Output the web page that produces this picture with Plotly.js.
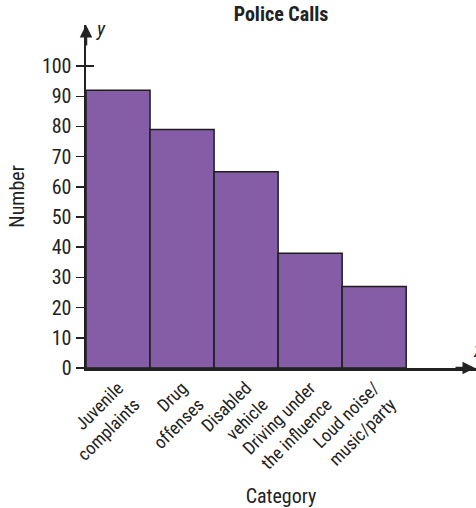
<!DOCTYPE html>
<html>
<head>
<script src="https://cdn.plot.ly/plotly-3.0.1.min.js"></script>
<style>html,body{margin:0;padding:0;background:#fff;}#chart{width:476px;height:508px;}</style>
</head>
<body>
<div id="chart"></div>
<script>
const categories = ["Juvenile<br>complaints", "Drug<br>offenses", "Disabled<br>vehicle", "Driving under<br>the influence", "Loud noise/<br>music/party"];
const values = [92, 79, 65, 38, 27];
const yTicks = [0, 10, 20, 30, 40, 50, 60, 70, 80, 90, 100];

const FONT = "'Liberation Sans Narrow', 'Roboto Condensed', 'Liberation Sans', Arial, sans-serif";
const positions = categories.map((c, i) => i + 0.5);

const trace = {
  type: 'bar',
  x: positions,
  y: values,
  width: 1,
  marker: {color: '#845da6', line: {color: '#1e1e1e', width: 1.5}},
  hoverinfo: 'skip'
};

const layout = {
  width: 476, height: 508,
  margin: {l: 86, r: 0, t: 25, b: 140},
  paper_bgcolor: '#fff', plot_bgcolor: '#fff',
  showlegend: false,
  font: {family: FONT, color: '#222', size: 18},
  title: {text: '<b>Police Calls</b>', x: 0.5, xref: 'paper', y: 0.972, yref: 'container', yanchor: 'middle',
          font: {family: FONT, size: 20, color: '#222'}},
  xaxis: {
    range: [0, 6.09], showgrid: false, zeroline: false,
    showline: true, linecolor: '#222', linewidth: 2.5,
    tickmode: 'array', tickvals: positions, ticktext: categories,
    ticks: '', tickangle: -45, tickfont: {family: FONT, size: 18, color: '#222'},
    title: {text: 'Category', font: {family: FONT, size: 20, color: '#222'}, standoff: 20},
    fixedrange: true
  },
  yaxis: {
    range: [0, 113.6], showgrid: false, zeroline: false,
    showline: true, linecolor: '#222', linewidth: 2.5,
    tickmode: 'array', tickvals: yTicks, ticktext: yTicks.map(String),
    ticks: 'outside', ticklen: 8, tickwidth: 1.5, tickcolor: '#222',
    tickfont: {family: FONT, size: 20, color: '#222'},
    title: {text: 'Number', font: {family: FONT, size: 20, color: '#222'}, standoff: 12},
    fixedrange: true
  },
  yaxis2: {
    overlaying: 'y', range: [0, 113.6], showgrid: false, zeroline: false, showline: false,
    tickmode: 'array', tickvals: yTicks, ticks: 'inside', ticklen: 8, tickwidth: 1.5, tickcolor: '#222',
    showticklabels: false, layer: 'below traces', fixedrange: true
  },
  annotations: [
    {xref: 'paper', yref: 'paper', x: 0, y: 1, ax: 0, ay: 22, axref: 'pixel', ayref: 'pixel',
     showarrow: true, arrowhead: 2, arrowsize: 1, arrowwidth: 2.5, arrowcolor: '#222', text: ''},
    {xref: 'paper', yref: 'paper', x: 1, y: 0, ax: -22, ay: 0,
     showarrow: true, arrowhead: 2, arrowsize: 1, arrowwidth: 2.5, arrowcolor: '#222', text: ''},
    {xref: 'paper', yref: 'paper', x: 0, y: 1, xanchor: 'left', yanchor: 'middle', xshift: 8, yshift: -4,
     showarrow: false, text: '<i>y</i>', font: {family: FONT, size: 20, color: '#222'}},
    {xref: 'paper', yref: 'paper', x: 1, y: 0, xanchor: 'left', yanchor: 'bottom', xshift: -5, yshift: 4,
     showarrow: false, text: '<i>x</i>', font: {family: FONT, size: 20, color: '#222'}}
  ]
};

const tick2 = {type: 'scatter', x: [0], y: [0], yaxis: 'y2', mode: 'markers', marker: {opacity: 0}, hoverinfo: 'skip'};

Plotly.newPlot('chart', [trace, tick2], layout, {displayModeBar: false, staticPlot: true});
</script>
</body>
</html>
